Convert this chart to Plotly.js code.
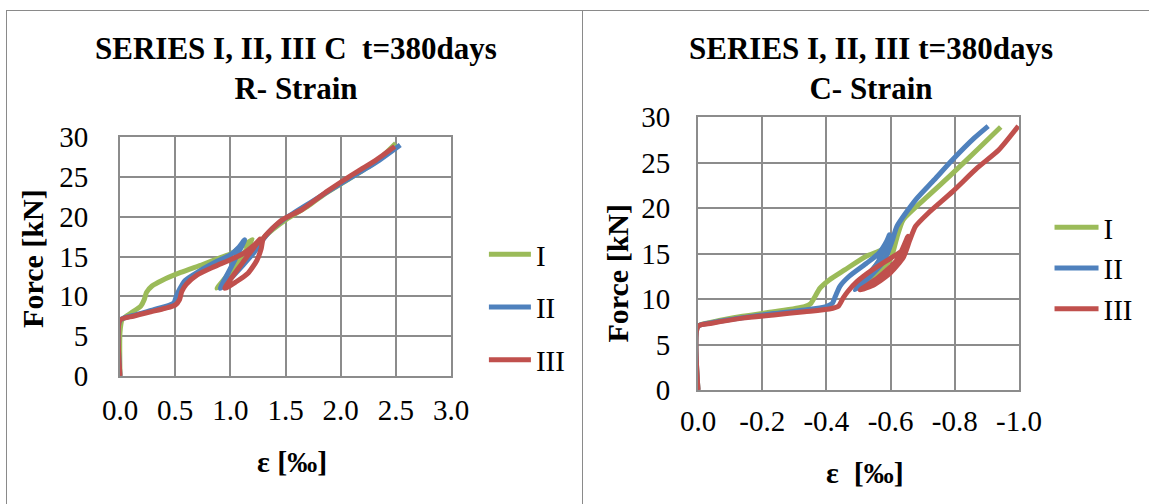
<!DOCTYPE html>
<html>
<head>
<meta charset="utf-8">
<script src="https://cdn.plot.ly/plotly-3.0.1.min.js"></script>
<style>
  html, body { margin: 0; padding: 0; background: #ffffff; width: 1149px; height: 504px; overflow: hidden; }
  #left { position: absolute; left: 0; top: 0; width: 582px; height: 504px; }
  #right { position: absolute; left: 582px; top: 0; width: 567px; height: 504px; }
  .frame { position: absolute; background: #8a8a8a; z-index: 10; }
</style>
</head>
<body>
<div id="left"></div>
<div id="right"></div>
<div class="frame" style="left:6px; top:10px; width:1px; height:494px;"></div>
<div class="frame" style="left:6px; top:10px; width:1143px; height:1px;"></div>
<div class="frame" style="left:582px; top:10px; width:1px; height:494px;"></div>
<script>
// ---------- Data: left chart (R- Strain) ----------
const seriesNames = ['I', 'II', 'III'];
const seriesColors = ['#9BBB59', '#4F81BD', '#C0504D'];

const rStrainI = [0, 0, 0.02, 0.1, 0.19, 0.22, 0.24, 0.29, 0.38, 0.55, 0.75, 0.9, 1.0, 1.12, 1.2,
  1.05, 0.88, 1.0, 1.15, 1.25, 1.32, 1.5, 1.7, 1.85, 2.0, 2.2, 2.35, 2.5];
const rForceI = [0, 5.5, 7.1, 7.9, 8.8, 9.6, 10.5, 11.3, 12.0, 13.0, 14.0, 14.8, 15.3, 16.4, 17.1,
  14.0, 11.0, 12.5, 14.6, 16.4, 17.6, 19.6, 21.3, 22.8, 24.1, 25.8, 27.2, 29.2];

const rStrainII = [0, 0, 0.12, 0.3, 0.45, 0.49, 0.51, 0.54, 0.59, 0.71, 0.88, 1.0, 1.08, 1.13,
  1.02, 0.91, 1.0, 1.12, 1.22, 1.3, 1.38, 1.5, 1.74, 2.03, 2.32, 2.54];
const rForceII = [0, 7.0, 7.6, 8.3, 8.9, 9.2, 10.0, 10.9, 12.0, 13.1, 14.4, 15.2, 16.2, 17.1,
  14.0, 11.0, 12.2, 14.0, 15.6, 17.2, 18.5, 19.8, 21.9, 24.4, 26.8, 29.0];

const rStrainIII = [0, 0, 0.12, 0.26, 0.41, 0.5, 0.54, 0.56, 0.6, 0.7, 0.85, 1.0, 1.12, 1.22, 1.27,
  1.11, 0.95, 1.05, 1.16, 1.24, 1.28, 1.30, 1.47, 1.65, 1.88, 2.03, 2.18, 2.32, 2.49];
const rForceIII = [0, 7.0, 7.5, 8.0, 8.5, 8.9, 9.6, 10.6, 11.5, 12.7, 13.7, 14.6, 15.4, 16.5, 17.2,
  14.2, 11.0, 11.8, 12.9, 14.5, 16.0, 17.3, 19.6, 20.9, 23.2, 24.6, 25.9, 27.1, 28.8];

// ---------- Data: right chart (C- Strain) ----------
const cStrainI = [0, 0, -0.05, -0.139, -0.236, -0.332, -0.351, -0.365, -0.38, -0.409, -0.457, -0.524, -0.572, -0.6,
  -0.55, -0.5, -0.56, -0.6, -0.62, -0.639, -0.716, -0.793, -0.87, -0.943];
const cForceI = [0, 7.0, 7.5, 8.1, 8.6, 9.17, 9.5, 10.3, 11.2, 12.1, 13.2, 14.7, 15.4, 16.1,
  13.5, 11.3, 12.9, 14.4, 16.8, 18.7, 21.3, 23.8, 26.4, 28.9];

const cStrainII = [0, 0, -0.043, -0.139, -0.236, -0.332, -0.399, -0.418, -0.428, -0.442, -0.471, -0.524, -0.5625, -0.587, -0.596,
  -0.56, -0.49, -0.54, -0.58, -0.605, -0.62, -0.678, -0.736, -0.793, -0.861, -0.904];
const cForceII = [0, 7.0, 7.4, 7.95, 8.4, 8.8, 9.17, 9.5, 10.3, 11.4, 12.5, 13.9, 15.0, 16.3, 17.05,
  14.0, 11.0, 12.6, 14.2, 16.4, 18.0, 20.9, 23.1, 25.3, 27.7, 29.0];

const cStrainIII = [0, 0, -0.043, -0.139, -0.236, -0.332, -0.409, -0.437, -0.452, -0.466, -0.495, -0.543, -0.601, -0.639, -0.654,
  -0.62, -0.56, -0.505, -0.55, -0.6, -0.64, -0.66, -0.678, -0.716, -0.793, -0.87, -0.9375, -0.998];
const cForceIII = [0, 7.0, 7.33, 7.9, 8.25, 8.6, 8.9, 9.2, 10.1, 10.8, 11.9, 13.2, 14.5, 15.4, 16.9,
  14.3, 12.3, 11.0, 11.6, 12.9, 14.6, 16.5, 18.0, 19.4, 21.8, 24.4, 26.4, 29.0];

// ---------- Tick labels ----------
const leftXTicks = [0, 0.5, 1.0, 1.5, 2.0, 2.5, 3.0];
const leftXTickText = ['0.0', '0.5', '1.0', '1.5', '2.0', '2.5', '3.0'];
const rightXTicks = [0, -0.2, -0.4, -0.6, -0.8, -1.0];
const rightXTickText = ['0.0', '-0.2', '-0.4', '-0.6', '-0.8', '-1.0'];
const yTicks = [0, 5, 10, 15, 20, 25, 30];
const yTickText = ['0', '5', '10', '15', '20', '25', '30'];

const leftTitle = 'SERIES I, II, III C\u00a0 t=380days<br>R- Strain';
const rightTitle = 'SERIES I, II, III t=380days<br>C- Strain';
const yTitle = 'Force [kN]';
const leftXTitle = '\u03b5 [\u2030]';
const rightXTitle = '\u03b5\u00a0 [\u2030]';

const FONT = '"Liberation Serif", "Times New Roman", Times, serif';
const GRID = '#8c8c8c';

function makeTraces(xs, ys) {
  return xs.map((x, i) => ({
    x: x, y: ys[i], type: 'scatter', mode: 'lines', name: seriesNames[i],
    legendgroup: 'g' + i,
    line: { color: seriesColors[i], width: 5, shape: 'spline', smoothing: 0.6 },
    hoverinfo: 'skip'
  }));
}

function axisX(range, tv, tt, standoff) {
  return {
    range: range, tickvals: tv, ticktext: tt, showgrid: true, gridcolor: GRID, gridwidth: 2,
    zeroline: false, showline: true, linecolor: GRID, linewidth: 2, mirror: true,
    ticks: '', ticklabelstandoff: standoff,
    tickfont: { family: FONT, size: 29, color: '#000' }, fixedrange: true
  };
}
function axisY(standoff) {
  return {
    range: [0, 30], tickvals: yTicks, ticktext: yTickText, showgrid: true, gridcolor: GRID, gridwidth: 2,
    zeroline: false, showline: true, linecolor: GRID, linewidth: 2, mirror: true,
    ticks: '', ticklabelstandoff: standoff,
    tickfont: { family: FONT, size: 29, color: '#000' }, fixedrange: true
  };
}
function ann(text, x, y, angle) {
  return { text: text, x: x, y: y, xref: 'paper', yref: 'paper', showarrow: false,
    xanchor: 'center', yanchor: 'middle', textangle: angle || 0,
    font: { family: FONT, size: 30, color: '#000', weight: 'bold' } };
}

const leftLayout = {
  width: 582, height: 504,
  margin: { l: 120, r: 120, t: 137, b: 128, pad: 0 },
  paper_bgcolor: 'rgba(0,0,0,0)', plot_bgcolor: '#ffffff',
  font: { family: FONT, size: 28, color: '#000' },
  title: { text: leftTitle, x: 296 / 582, xref: 'container', xanchor: 'center',
    y: 1 - 59 / 504, yref: 'container', yanchor: 'middle',
    font: { family: FONT, size: 31, color: '#000', weight: 'bold' } },
  xaxis: axisX([0, 3], leftXTicks, leftXTickText, 7),
  yaxis: axisY(24),
  showlegend: true,
  legend: { x: (496 - 120) / 342, y: (376 - 229) / 239, xanchor: 'left', yanchor: 'top',
    xref: 'paper', yref: 'paper', traceorder: 'grouped', tracegroupgap: 12, itemwidth: 42,
    bgcolor: 'rgba(0,0,0,0)', font: { family: FONT, size: 29, color: '#000' } },
  annotations: [
    ann(yTitle, (29 - 120) / 342, (376 - 258) / 239, -90),
    ann(leftXTitle, (298 - 120) / 342, (376 - 461) / 239)
  ]
};

const rightLayout = {
  width: 567, height: 504,
  margin: { l: 116, r: 104, t: 117, b: 114, pad: 0 },
  paper_bgcolor: 'rgba(0,0,0,0)', plot_bgcolor: '#ffffff',
  font: { family: FONT, size: 28, color: '#000' },
  title: { text: rightTitle, x: 289 / 567, xref: 'container', xanchor: 'center',
    y: 1 - 59 / 504, yref: 'container', yanchor: 'middle',
    font: { family: FONT, size: 31, color: '#000', weight: 'bold' } },
  xaxis: axisX([0, -1], rightXTicks, rightXTickText, 4),
  yaxis: axisY(20),
  showlegend: true,
  legend: { x: (496 - 116) / 347, y: (390 - 202) / 273, xanchor: 'left', yanchor: 'top',
    xref: 'paper', yref: 'paper', traceorder: 'grouped', tracegroupgap: 0, itemwidth: 44,
    bgcolor: 'rgba(0,0,0,0)', font: { family: FONT, size: 29, color: '#000' } },
  annotations: [
    ann(yTitle, (28 - 116) / 347, (390 - 273) / 273, -90),
    ann(rightXTitle, (297 - 116) / 347, (390 - 472) / 273)
  ]
};

const config = { staticPlot: true, displayModeBar: false };

Plotly.newPlot('left', makeTraces([rStrainI, rStrainII, rStrainIII], [rForceI, rForceII, rForceIII]), leftLayout, config);
Plotly.newPlot('right', makeTraces([cStrainI, cStrainII, cStrainIII], [cForceI, cForceII, cForceIII]), rightLayout, config);
</script>
</body>
</html>
